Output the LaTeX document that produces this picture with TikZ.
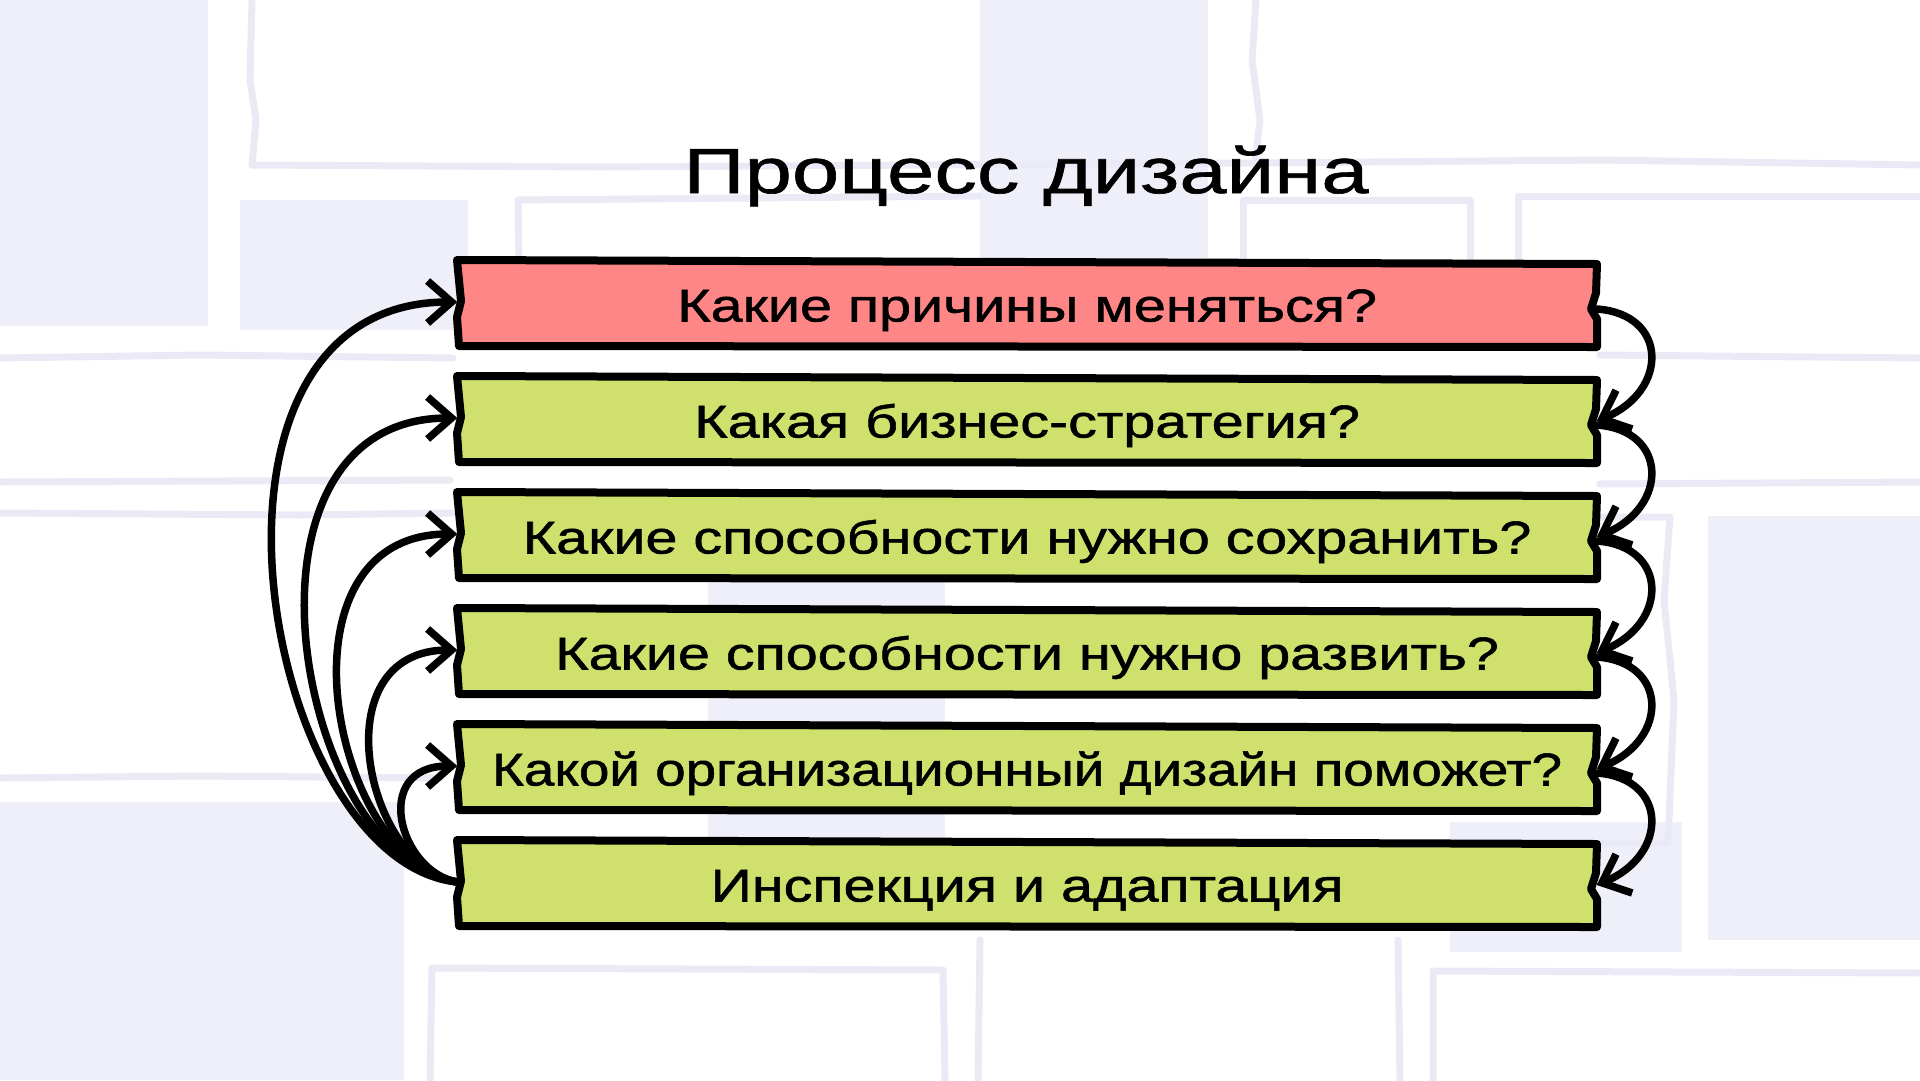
\documentclass[tikz,border=0pt]{standalone}
\usepackage{fontspec}
\setmainfont{Liberation Sans}
\newfontfamily\wfont{Liberation Sans}[FakeStretch=1.25,FakeBold=1.2]
\newfontfamily\nfont{Liberation Sans}[FakeStretch=1.19,FakeBold=1.2]
\newfontfamily\tfont{Liberation Sans}[FakeStretch=1.33,FakeBold=1.0]
\usetikzlibrary{arrows.meta}
\definecolor{bgfill}{HTML}{EFEFFA}
\definecolor{bgline}{HTML}{EAEAF7}
\definecolor{redbox}{HTML}{FF8686}
\definecolor{greenbox}{HTML}{CFE06C}
\tikzset{
  qtext/.style={minimum width=1139pt, minimum height=84pt, inner sep=0pt,
    text height=33pt, text depth=0pt, font={\wfont\fontsize{46}{52}\selectfont}},
  qnarrow/.style={font={\nfont\fontsize{46}{52}\selectfont}},
  qshape/.style={draw=black, line width=8pt, line join=round},
  arr/.style={line width=7.5pt, line cap=round, -{Straight Barb[length=24pt,width=42pt]}},
  bgl/.style={draw=bgline, line width=7pt, line cap=round, line join=round},
  bgf/.style={fill=bgfill}
}
\newcommand\qbody[2]{%
  \draw[qshape, fill=#2] (457,#1-45) -- (1597,#1-41) -- (1596,#1-12) -- (1591,#1+4)
    -- (1597,#1+14) -- (1597,#1+42) -- (459,#1+41) -- (457,#1+12) -- (461,#1-4) -- cycle;}
\begin{document}
\begin{tikzpicture}[x=1pt,y=-1pt]
\useasboundingbox (0,0) rectangle (1920,1080);
\fill[white] (0,0) rectangle (1920,1080);
% background fills
\fill[bgf] (0,0) rectangle (208,326);
\fill[bgf] (240,200) rectangle (468,330);
\fill[bgf] (980,0) rectangle (1208,258);
\fill[bgf] (708,540) rectangle (945,845);
\fill[bgf] (0,802) rectangle (404,1080);
\fill[bgf] (1708,516) rectangle (1920,940);
\fill[bgf] (1450,822) rectangle (1682,952);
% background lines
\draw[bgl] (252,0) -- (250,80) -- (256,120) -- (252,165) -- (600,167) -- (1255,163) -- (1260,120) -- (1252,60) -- (1256,0);
\draw[bgl] (1255,163) -- (1600,160) -- (1920,165);
\draw[bgl] (520,330) -- (518,200) -- (980,196);
\draw[bgl] (1243,330) -- (1243,200) -- (1470,200) -- (1470,330);
\draw[bgl] (1518,330) -- (1518,196) -- (1920,196);
\draw[bgl] (0,358) -- (200,355) -- (453,358);
\draw[bgl] (1600,355) -- (1920,358);
\draw[bgl] (0,482) -- (450,480);
\draw[bgl] (1600,484) -- (1920,482);
\draw[bgl] (0,513) -- (300,515) -- (453,513);
\draw[bgl] (1600,517) -- (1670,517) -- (1664,600) -- (1674,700) -- (1668,843) -- (1600,843);
\draw[bgl] (0,778) -- (200,776) -- (440,778);
\draw[bgl] (430,1080) -- (432,968) -- (943,970) -- (945,1080);
\draw[bgl] (1433,1080) -- (1433,971) -- (1920,973);
\draw[bgl] (980,940) -- (978,1080);
\draw[bgl] (1398,940) -- (1400,1080);
% title
\node[font={\tfont\fontsize{64}{70}\selectfont}] (title) at (1026,176) {Процесс дизайна};
% box shapes
\qbody{305}{redbox}
\qbody{421}{greenbox}
\qbody{537}{greenbox}
\qbody{653}{greenbox}
\qbody{769}{greenbox}
\qbody{885}{greenbox}
% box texts
\node[qtext] (b1) at (1027,305) {Какие причины меняться?};
\node[qtext] (b2) at (1027,421) {Какая бизнес-стратегия?};
\node[qtext] (b3) at (1027,537) {Какие способности нужно сохранить?};
\node[qtext] (b4) at (1027,653) {Какие способности нужно развить?};
\node[qtext, qnarrow] (b5) at (1027,769) {Какой организационный дизайн поможет?};
\node[qtext] (b6) at (1027,885) {Инспекция и адаптация};
% left arrows
\draw[arr] ([yshift=3pt]b6.west) .. controls +(-195,-20) and +(-292,0) .. ([yshift=3pt]b1.west);
\draw[arr] ([yshift=3pt]b6.west) .. controls +(-160,-20) and +(-240,0) .. ([yshift=3pt]b2.west);
\draw[arr] ([yshift=3pt]b6.west) .. controls +(-126,-20) and +(-189,0) .. ([yshift=3pt]b3.west);
\draw[arr] ([yshift=3pt]b6.west) .. controls +(-92,-15) and +(-138,0) .. ([yshift=3pt]b4.west);
\draw[arr] ([yshift=3pt]b6.west) .. controls +(-58,-10) and +(-87,0) .. ([yshift=3pt]b5.west);
% right arrows
\draw[arr] ([yshift=-4pt]b1.east) .. controls +(72,5) and +(72,-30) .. (b2.east);
\draw[arr] ([yshift=-4pt]b2.east) .. controls +(72,5) and +(72,-30) .. (b3.east);
\draw[arr] ([yshift=-4pt]b3.east) .. controls +(72,5) and +(72,-30) .. (b4.east);
\draw[arr] ([yshift=-4pt]b4.east) .. controls +(72,5) and +(72,-30) .. (b5.east);
\draw[arr] ([yshift=-4pt]b5.east) .. controls +(72,5) and +(72,-30) .. (b6.east);
\end{tikzpicture}
\end{document}
